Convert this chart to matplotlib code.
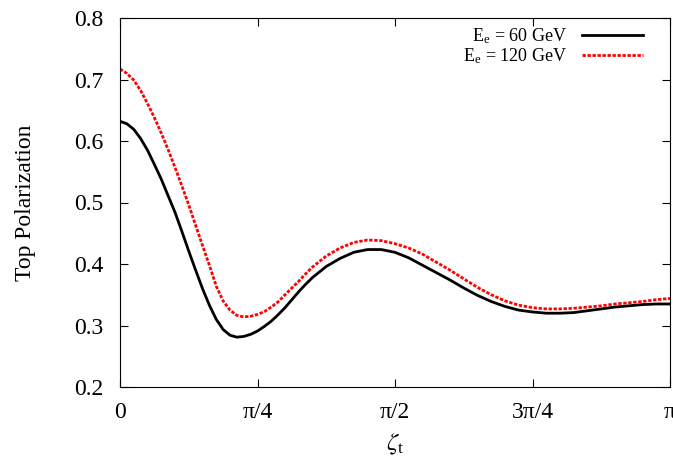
import numpy as np
import matplotlib
matplotlib.use('Agg')
import matplotlib.pyplot as plt

plt.rcParams['font.family'] = ['Liberation Serif', 'DejaVu Serif']
plt.rcParams['mathtext.fontset'] = 'stix'

# zeta_t in units of pi
zeta_over_pi = [0.0, 0.0125, 0.025, 0.0375, 0.05, 0.0625, 0.075, 0.0875, 0.1, 0.1125,
                0.125, 0.1375, 0.15, 0.1625, 0.175, 0.1875, 0.2, 0.2125, 0.225, 0.2375,
                0.25, 0.2625, 0.275, 0.2875, 0.3, 0.3125, 0.325, 0.3375, 0.35, 0.375,
                0.4, 0.425, 0.45, 0.475, 0.5, 0.525, 0.55, 0.575, 0.6, 0.625,
                0.65, 0.675, 0.7, 0.725, 0.75, 0.775, 0.8, 0.825, 0.85, 0.875,
                0.9, 0.925, 0.95, 0.975, 1.0]

pol_60 = [0.632, 0.628, 0.619, 0.604, 0.585, 0.562, 0.538, 0.511, 0.484, 0.453,
          0.421, 0.390, 0.360, 0.333, 0.310, 0.2935, 0.2842, 0.281, 0.2822, 0.2856,
          0.291, 0.2985, 0.307, 0.3175, 0.329, 0.342, 0.355, 0.367, 0.378, 0.396,
          0.409, 0.419, 0.4235, 0.4235, 0.419, 0.410, 0.398, 0.386, 0.374, 0.361,
          0.349, 0.339, 0.331, 0.325, 0.322, 0.320, 0.320, 0.321, 0.324, 0.327,
          0.330, 0.332, 0.334, 0.335, 0.335]

pol_120 = [0.717, 0.710, 0.699, 0.682, 0.661, 0.638, 0.613, 0.586, 0.557, 0.527,
           0.496, 0.463, 0.430, 0.398, 0.364, 0.340, 0.325, 0.3165, 0.314, 0.315,
           0.318, 0.3225, 0.330, 0.3385, 0.350, 0.361, 0.372, 0.384, 0.395, 0.413,
           0.426, 0.435, 0.439, 0.438, 0.433, 0.426, 0.416, 0.403, 0.390, 0.376,
           0.362, 0.350, 0.340, 0.333, 0.329, 0.327, 0.327, 0.328, 0.330, 0.332,
           0.335, 0.337, 0.339, 0.342, 0.344]

tick_pos = [0, 0.25, 0.5, 0.75, 1.0]
tick_labels = ['0', 'π/4', 'π/2', '3π/4', 'π']

zeta = np.pi * np.array(zeta_over_pi)

fig = plt.figure(figsize=(6.73, 4.57), dpi=100)
ax = fig.add_axes([120/673, 70/457, 550/673, 369/457])

ax.plot(zeta, pol_60, color='black', lw=2.0, label=r'E$_\mathregular{e}$ = 60 GeV')
ax.plot(zeta, pol_120, color='#ff0000', lw=2.0, linestyle=(0, (1.2, 0.6)),
        label=r'E$_\mathregular{e}$ = 120 GeV')

ax.set_xlim(0, np.pi)
ax.set_ylim(0.2, 0.8)
ax.set_xticks(np.pi * np.array(tick_pos))
ax.set_xticklabels(tick_labels)
ax.set_yticks([0.2, 0.3, 0.4, 0.5, 0.6, 0.7, 0.8])
ax.tick_params(direction='in', length=6, width=0.8, top=True, right=True,
               labelsize=17)
ax.tick_params(axis='x', pad=11)
ax.tick_params(axis='y', pad=12)
for s in ax.spines.values():
    s.set_linewidth(0.8)

ax.set_ylabel('Top Polarization', fontsize=17)
ax.yaxis.set_label_coords(-0.152, 0.5)
ax.set_xlabel(r'$\zeta_\mathregular{t}$', fontsize=18)
ax.xaxis.set_label_coords(0.5, -0.12)

ax.legend(loc='upper right', bbox_to_anchor=(0.951, 0.978), frameon=False,
          markerfirst=False, fontsize=13, handlelength=3.4, labelspacing=0.05,
          borderaxespad=0, borderpad=0, handletextpad=0.8)

fig.savefig('out.png', dpi=100)
